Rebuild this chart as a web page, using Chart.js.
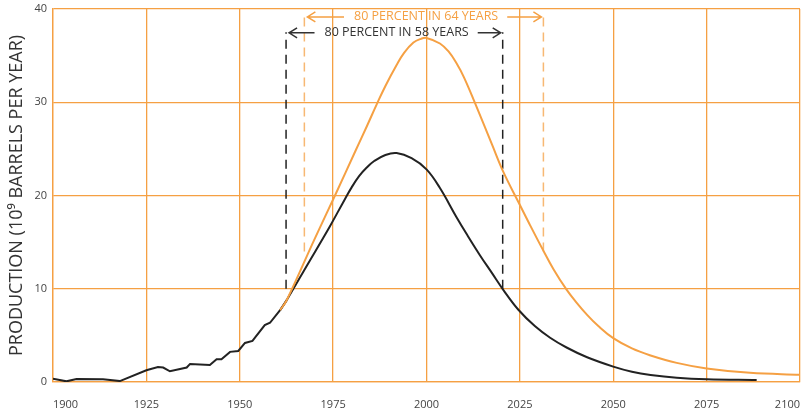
<!DOCTYPE html>
<html>
<head>
<meta charset="utf-8">
<script src="https://cdn.jsdelivr.net/npm/chart.js@4"></script>
<style>
  body { margin: 0; background: #fff; }
  #chart { display: block; }
</style>
</head>
<body>
<canvas id="chart" width="805" height="409"></canvas>
<script>
// black curve, historical part (jagged)
const histYears = [1900, 1903.6, 1906.3, 1913.4, 1917.9, 1925, 1928.1, 1929.5, 1931.3, 1935.8, 1936.7, 1942, 1943.8, 1945.1, 1947.4, 1949.6, 1951.4, 1953.4, 1956.7, 1958.1, 1960.8, 1962.6]
const histValues = [0.36, 0.07, 0.32, 0.29, 0.1, 1.26, 1.6, 1.55, 1.15, 1.55, 1.94, 1.83, 2.44, 2.44, 3.23, 3.33, 4.19, 4.41, 6.1, 6.35, 7.7, 8.8]

// black curve, 58-year scenario
const blackYears = [1960.8, 1962.6, 1968, 1974, 1978, 1980, 1982, 1984, 1986, 1989, 1992, 1996, 2000, 2003.6, 2008, 2011, 2014.3, 2017.5, 2020.6, 2024.6, 2029, 2033.1, 2037.5, 2043, 2050, 2055, 2060, 2067, 2075, 2088.4]
const blackValues = [7.7, 8.8, 12.5, 16.6, 19.5, 20.9, 22.1, 23.0, 23.7, 24.35, 24.55, 24.0, 22.8, 20.8, 17.7, 15.7, 13.6, 11.7, 9.86, 7.75, 6.0, 4.75, 3.7, 2.65, 1.65, 1.1, 0.75, 0.45, 0.29, 0.22]

// orange curve, 64-year scenario
const orangeYears = [1960.8, 1962.6, 1970, 1975.5, 1981, 1984, 1986.7, 1989, 1992, 1994, 1996.5, 1998.5, 2000, 2003.6, 2006, 2008, 2010, 2013, 2017.5, 2020.6, 2024.6, 2027.5, 2031, 2034, 2037.5, 2040, 2043, 2046, 2050, 2055, 2060, 2067, 2075, 2086.6, 2100]
const orangeValues = [7.7, 8.8, 15.3, 20.0, 24.8, 27.4, 29.8, 31.75, 34.0, 35.3, 36.4, 36.8, 36.9, 36.3, 35.4, 34.2, 32.7, 29.9, 25.5, 22.5, 19.3, 17.0, 14.3, 12.1, 9.9, 8.6, 7.2, 6.0, 4.7, 3.6, 2.85, 2.05, 1.45, 0.98, 0.79]

// the two "80 percent" spans
const spanLabels = ['80 PERCENT IN 58 YEARS', '80 PERCENT IN 64 YEARS']
const spanStart = [1962.4, 1967.3]
const spanEnd = [2020.4, 2031.3]
const spanTextYear = [1992, 1999.9]
const spanArrowY = [37.45, 39.15]
const spanLineBottom = [10, 14]
const spanLineTop = [37.5, 39.2]

const xTicks = [1900, 1925, 1950, 1975, 2000, 2025, 2050, 2075, 2100]
const yTicks = [0, 10, 20, 30, 40]

const ORANGE = '#f5a043'
const BLACK = '#222222'
const DASH_ORANGE = '#f7b873'

function toPoints(xs, ys) {
    return xs.map((x, i) => ({ x: x, y: ys[i] }))
}

var datasets = [
    {
        data: toPoints(orangeYears, orangeValues),
        borderColor: ORANGE,
        borderWidth: 2,
        pointRadius: 0,
        tension: 0.4
    },
    {
        data: toPoints(histYears, histValues),
        borderColor: BLACK,
        borderWidth: 2,
        pointRadius: 0,
        tension: 0
    },
    {
        data: toPoints(blackYears, blackValues),
        borderColor: BLACK,
        borderWidth: 2,
        pointRadius: 0,
        tension: 0.4
    }
]
// dashed markers at span ends
spanStart.forEach((s, i) => {
    const color = i == 0 ? BLACK : DASH_ORANGE
    ;[s, spanEnd[i]].forEach(yr => {
        datasets.push({
            data: [{ x: yr, y: spanLineBottom[i] }, { x: yr, y: spanLineTop[i] }],
            borderColor: color,
            borderWidth: 1.5,
            borderDash: [9, 6],
            pointRadius: 0
        })
    })
})

const spanArrows = {
    id: 'spanArrows',
    afterDatasetsDraw(chart) {
        const c = chart.ctx
        const xs = chart.scales.x
        const ys = chart.scales.y
        c.save()
        c.font = '12.5px "Open Sans"'
        c.textAlign = 'center'
        c.textBaseline = 'middle'
        spanLabels.forEach((label, i) => {
            const color = i == 0 ? '#333333' : ORANGE
            const x0 = xs.getPixelForValue(spanStart[i]) + 3
            const x1 = xs.getPixelForValue(spanEnd[i]) - 2
            const y = ys.getPixelForValue(spanArrowY[i])
            const xm = xs.getPixelForValue(spanTextYear[i])
            const w = c.measureText(label).width
            c.strokeStyle = color
            c.fillStyle = color
            c.lineWidth = 1.5
            c.beginPath()
            c.moveTo(x0, y); c.lineTo(xm - w / 2 - 10, y)
            c.moveTo(xm + w / 2 + 9, y); c.lineTo(x1, y)
            c.moveTo(x0 + 8, y - 5); c.lineTo(x0, y); c.lineTo(x0 + 8, y + 5)
            c.moveTo(x1 - 8, y - 5); c.lineTo(x1, y); c.lineTo(x1 - 8, y + 5)
            c.stroke()
            c.fillText(label, xm, y)
        })
        c.restore()
    }
}

new Chart(document.getElementById('chart'), {
    type: 'line',
    data: { datasets: datasets },
    options: {
        responsive: false,
        animation: false,
        devicePixelRatio: 1,
        layout: { padding: { top: 9, right: 5, left: 0, bottom: 0 } },
        plugins: { legend: { display: false }, tooltip: { enabled: false } },
        scales: {
            x: {
                type: 'linear',
                min: 1900,
                max: 2100,
                afterBuildTicks: (s) => { s.ticks = xTicks.map(v => ({ value: v })) },
                afterFit: (s) => {
                    s.height = 27
                    s.paddingLeft = 0
                    s.paddingRight = 0
                },
                grid: { color: ORANGE, lineWidth: 1.3, drawTicks: false },
                border: { color: ORANGE, width: 1.3 },
                ticks: {
                    align: 'inner',
                    padding: 16,
                    color: '#444',
                    font: { family: 'Open Sans', size: 11 },
                    callback: (v) => String(v)
                }
            },
            y: {
                min: 0,
                max: 40,
                afterBuildTicks: (s) => { s.ticks = yTicks.map(v => ({ value: v })) },
                afterFit: (s) => {
                    s.width = 53
                    s.paddingTop = 0
                    s.paddingBottom = 0
                },
                grid: { color: ORANGE, lineWidth: 1.3, drawTicks: false },
                border: { color: ORANGE, width: 1.3 },
                ticks: {
                    padding: 6,
                    color: '#444',
                    font: { family: 'Open Sans', size: 11 }
                },
                title: {
                    display: true,
                    text: 'PRODUCTION (10⁹ BARRELS PER YEAR)',
                    color: '#333',
                    font: { family: 'Open Sans', size: 18 },
                    padding: { top: 6, bottom: 0 }
                }
            }
        }
    },
    plugins: [spanArrows]
})
</script>
</body>
</html>
